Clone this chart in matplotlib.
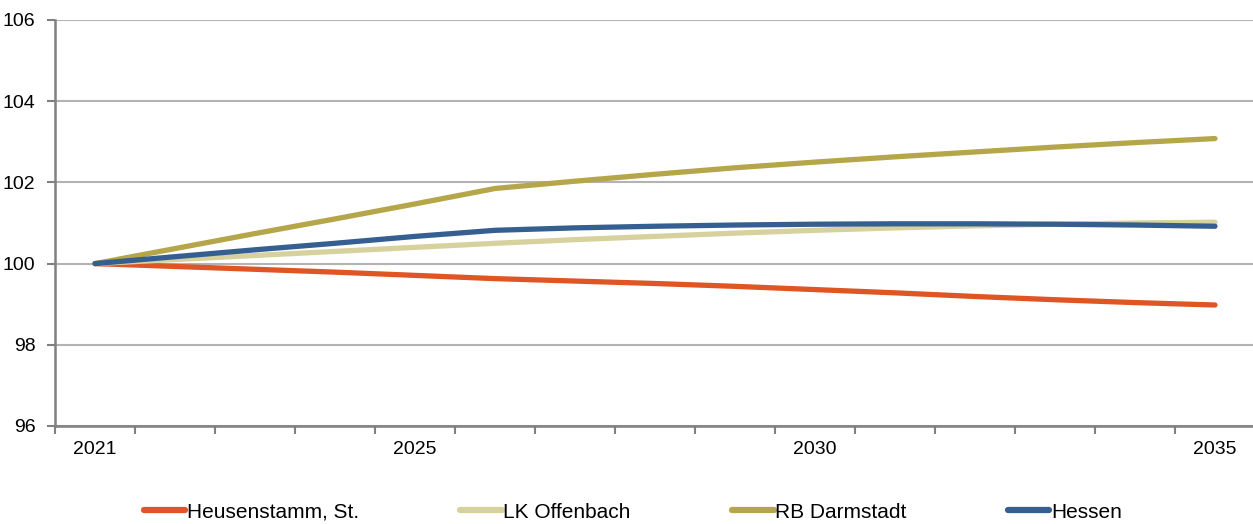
import matplotlib
matplotlib.use("Agg")
import matplotlib.pyplot as plt
from matplotlib.ticker import FixedLocator, NullFormatter

years = list(range(2021, 2036))
labeled_years = [2021, 2025, 2030, 2035]

heusenstamm = [100.0, 99.93, 99.86, 99.79, 99.71, 99.63, 99.57, 99.51, 99.44, 99.36,
               99.28, 99.19, 99.11, 99.04, 98.98]
lk_offenbach = [100.0, 100.10, 100.20, 100.30, 100.40, 100.50, 100.59, 100.67, 100.75, 100.82,
                100.88, 100.93, 100.97, 101.00, 101.02]
rb_darmstadt = [100.0, 100.37, 100.74, 101.10, 101.47, 101.85, 102.03, 102.20, 102.36, 102.50,
                102.63, 102.75, 102.87, 102.98, 103.08]
hessen = [100.0, 100.17, 100.34, 100.50, 100.67, 100.82, 100.88, 100.92, 100.95, 100.97,
          100.98, 100.98, 100.97, 100.95, 100.92]

series = [
    ("Heusenstamm, St.", heusenstamm, "#E05524"),
    ("LK Offenbach", lk_offenbach, "#D7D19D"),
    ("RB Darmstadt", rb_darmstadt, "#B6A64A"),
    ("Hessen", hessen, "#355F91"),
]

plt.rcParams['font.family'] = ['Liberation Sans', 'DejaVu Sans']

W, H = 1253, 524
fig = plt.figure(figsize=(W / 100, H / 100), dpi=100)
left, right, top, bottom = 55, 1255, 20, 426
ax = fig.add_axes([left / W, 1 - bottom / H, (right - left) / W, (bottom - top) / H])

x = list(range(len(years)))
for name, vals, col in series:
    ax.plot(x, vals, color=col, lw=3.8, solid_capstyle='round', solid_joinstyle='round', label=name)

ax.set_xlim(-0.5, len(years) - 0.5)
ax.set_ylim(96, 106)
ax.set_yticks([96, 98, 100, 102, 104, 106])
ax.yaxis.grid(True, color="#B3B3B3", lw=1.5)
ax.set_axisbelow(True)

# category boundaries as major ticks, labels on minor ticks
ax.xaxis.set_major_locator(FixedLocator([i - 0.5 for i in range(len(years) + 1)]))
ax.xaxis.set_major_formatter(NullFormatter())
lab_pos = [years.index(y) for y in labeled_years]
ax.xaxis.set_minor_locator(FixedLocator(lab_pos))
ax.set_xticklabels([str(y) for y in labeled_years], minor=True)
ax.tick_params(axis='x', which='major', length=6, width=1.5, color="#808080", direction='out')
ax.tick_params(axis='x', which='minor', length=0, pad=11, labelsize=14)
ax.tick_params(axis='y', length=6, width=1.5, color="#808080", direction='out', labelsize=14, pad=8)

for s in ['top', 'right']:
    ax.spines[s].set_visible(False)
for s in ['left', 'bottom']:
    ax.spines[s].set_color("#808080")
    ax.spines[s].set_linewidth(1.8)

leg = fig.legend(loc='center', bbox_to_anchor=(0.505, 1 - 512 / H), ncol=4, frameon=False,
                 fontsize=15, handlelength=2.0, handletextpad=0.08, columnspacing=4.85,
                 borderaxespad=0)
for h in leg.get_lines():
    h.set_linewidth(4.5)

fig.savefig("out.png", dpi=100)
